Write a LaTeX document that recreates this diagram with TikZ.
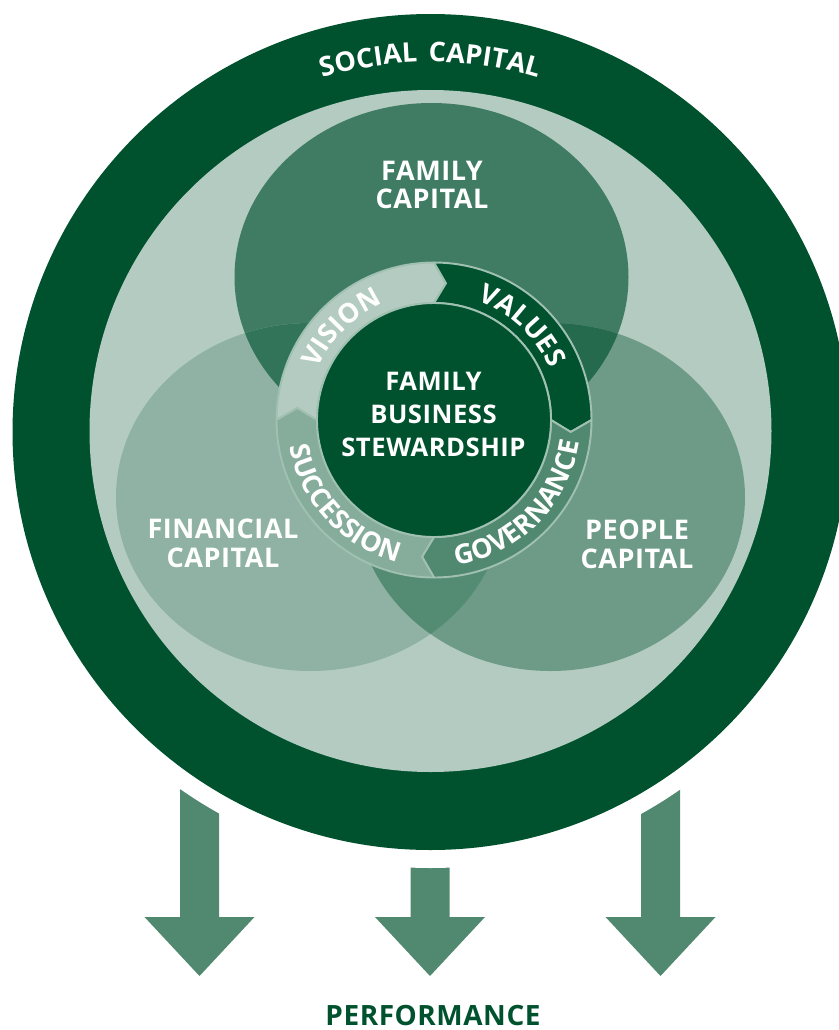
\documentclass[tikz,border=0pt]{standalone}
\usepackage{fontspec}
\setmainfont{Open Sans}
\newfontfamily\capfont{Open Sans}[LetterSpace=2]
\newfontfamily\arcfont{Open Sans}[LetterSpace=8]
\newfontfamily\widearcfont{Open Sans}[LetterSpace=14]
\usetikzlibrary{decorations.text}

\definecolor{socialgreen}{RGB}{0,82,47}
\definecolor{innerlight}{RGB}{179,203,192}
\definecolor{familygreen}{RGB}{64,124,100}
\definecolor{financegreen}{RGB}{143,178,164}
\definecolor{peoplegreen}{RGB}{109,155,135}
\definecolor{famfin}{RGB}{50,116,90}
\definecolor{fampeo}{RGB}{38,106,78}
\definecolor{finpeo}{RGB}{84,139,115}
\definecolor{arrowgreen}{RGB}{80,137,111}
\definecolor{successgreen}{RGB}{134,172,155}
\definecolor{ringline}{RGB}{160,192,178}

\newcommand\ringfont{\arcfont\bfseries\fontsize{15.4}{16}\selectfont}
\newcommand\socialfont{\widearcfont\bfseries\fontsize{15.4}{16}\selectfont}

\tikzset{
  capital/.style={text=white, align=center, inner sep=0pt,
    font=\capfont\bfseries\fontsize{15.4}{16.3}\selectfont},
  stewardship/.style={text=white, align=center, inner sep=0pt,
    font=\capfont\bfseries\fontsize{14.6}{18.8}\selectfont},
  ringtext/.style={decorate, decoration={text along path, text align=center, text color=white}},
}

\begin{document}
\begin{tikzpicture}
\useasboundingbox (0,0) rectangle (16.76,-20.6);
% performance arrows, cut off by a white gap round the big circle
\foreach \x in {3.99,8.6,13.21}
  \fill[arrowgreen] (\x-0.39,-15) -- (\x-0.39,-18.34) -- (\x-1.1,-18.34) -- (\x,-19.52)
    -- (\x+1.1,-18.34) -- (\x+0.39,-18.34) -- (\x+0.39,-15) -- cycle;
\fill[white] (8.61,-8.64) circle (8.72);
\fill[socialgreen] (8.61,-8.64) circle (8.36);
\fill[innerlight] (8.61,-8.62) circle (6.82);
\path[ringtext, decoration={text={|\socialfont|SOCIAL CAPITAL}}]
  (8.61,-8.64) ++(135:7.40) arc[start angle=135, end angle=45, radius=7.40];
% three capitals
\fill[familygreen] (8.63,-5.54) ellipse (3.94 and 3.48);
\fill[financegreen] (6.21,-9.94) ellipse (3.89 and 3.48);
\fill[peoplegreen] (11.01,-9.94) ellipse (3.89 and 3.48);
\begin{scope}
  \clip (8.63,-5.54) ellipse (3.94 and 3.48);
  \fill[famfin] (6.21,-9.94) ellipse (3.89 and 3.48);
  \fill[fampeo] (11.01,-9.94) ellipse (3.89 and 3.48);
\end{scope}
\begin{scope}
  \clip (6.21,-9.94) ellipse (3.89 and 3.48);
  \fill[finpeo] (11.01,-9.94) ellipse (3.89 and 3.48);
\end{scope}
\node[capital] (family) at (8.64,-3.70) {FAMILY\\CAPITAL};
\node[capital] (financial) at (4.46,-10.87) {FINANCIAL\\CAPITAL};
\node[capital] (people) at (12.74,-10.88) {PEOPLE\\CAPITAL};
% stewardship ring
\begin{scope}[shift={(8.68,-8.40)}]
  \foreach \a/\col in {180/innerlight,90/socialgreen,0/arrowgreen,-90/successgreen}{
    \pgfmathsetmacro\b{\a-90}
    \filldraw[fill=\col, draw=ringline, line width=1.1pt, line join=round]
      (\a:3.15) arc[start angle=\a, end angle=\b, radius=3.15] -- (\b-5:2.745) -- (\b:2.34)
      arc[start angle=\b, end angle=\a, radius=2.34] -- (\a-5:2.745) -- cycle;
  }
  \filldraw[fill=socialgreen, draw=ringline, line width=1.1pt] (0,0) circle (2.34);
  \path[ringtext, decoration={text={|\ringfont|VISION}}]
    (180:2.54) arc[start angle=180, end angle=90, radius=2.54];
  \path[ringtext, decoration={text={|\ringfont|VALUES}}]
    (92:2.54) arc[start angle=92, end angle=2, radius=2.54];
  \path[ringtext, decoration={text={|\ringfont|GOVERNANCE}}]
    (270:2.94) arc[start angle=270, end angle=360, radius=2.94];
  \path[ringtext, decoration={text={|\ringfont|SUCCESSION}}]
    (178:2.94) arc[start angle=178, end angle=268, radius=2.94];
  \node[stewardship] (steward) at (-0.01,0.12) {FAMILY\\BUSINESS\\STEWARDSHIP};
\end{scope}
\node[text=socialgreen, font=\capfont\bfseries\fontsize{15.9}{17}\selectfont] (performance)
  at (8.66,-20.30) {PERFORMANCE};
\end{tikzpicture}
\end{document}
